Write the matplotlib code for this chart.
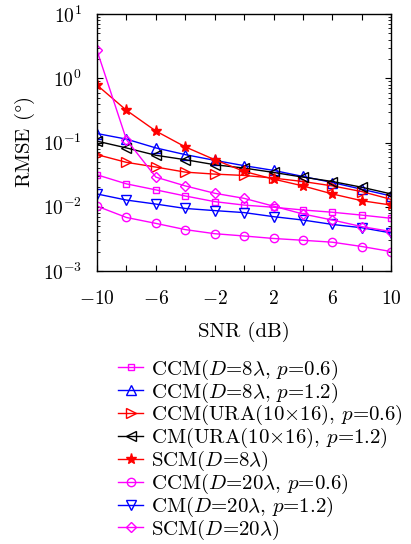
import numpy as np
import matplotlib
matplotlib.use("Agg")
import matplotlib.pyplot as plt
from matplotlib.ticker import LogLocator, NullFormatter

plt.rcParams['font.family'] = 'serif'
plt.rcParams['font.serif'] = ['cmr10', 'DejaVu Serif']
plt.rcParams['mathtext.fontset'] = 'cm'
plt.rcParams['axes.formatter.use_mathtext'] = True

# Data
snr = [-10, -8, -6, -4, -2, 0, 2, 4, 6, 8, 10]
ccm_d8_p06 = [0.0314, 0.0227, 0.0183, 0.0147, 0.0120, 0.0106, 0.0098, 0.0089, 0.0082, 0.0074, 0.0066]
ccm_d8_p12 = [0.138, 0.113, 0.0824, 0.0648, 0.0528, 0.0436, 0.0368, 0.0296, 0.0238, 0.0187, 0.0147]
ccm_ura_p06 = [0.0648, 0.0491, 0.0415, 0.0346, 0.0322, 0.0307, 0.0279, 0.0247, 0.0211, 0.0172, 0.0130]
cm_ura_p12 = [0.105, 0.0824, 0.0633, 0.054, 0.0451, 0.040, 0.0342, 0.0289, 0.0247, 0.0201, 0.0158]
scm_d8 = [0.785, 0.318, 0.151, 0.0855, 0.054, 0.0355, 0.0269, 0.0211, 0.0158, 0.0124, 0.0106]
ccm_d20_p06 = [0.0102, 0.0068, 0.0055, 0.0044, 0.0038, 0.0035, 0.0032, 0.0030, 0.0028, 0.0024, 0.0020]
cm_d20_p12 = [0.0158, 0.0127, 0.0110, 0.0094, 0.0087, 0.0081, 0.0070, 0.0062, 0.0053, 0.0047, 0.0039]
scm_d20 = [2.72, 0.111, 0.0289, 0.0211, 0.0162, 0.0135, 0.0102, 0.0077, 0.0062, 0.0049, 0.0041]

labels = [r'CCM($D$=8$\lambda$, $p$=0.6)',
          r'CCM($D$=8$\lambda$, $p$=1.2)',
          r'CCM(URA(10$\times$16), $p$=0.6)',
          r'CM(URA(10$\times$16), $p$=1.2)',
          r'SCM($D$=8$\lambda$)',
          r'CCM($D$=20$\lambda$, $p$=0.6)',
          r'CM($D$=20$\lambda$, $p$=1.2)',
          r'SCM($D$=20$\lambda$)']

fig = plt.figure(figsize=(4.11, 5.44), dpi=100)
ax = fig.add_axes([0.236, 0.502, 0.716, 0.472])

series = [ccm_d8_p06, ccm_d8_p12, ccm_ura_p06, cm_ura_p12, scm_d8, ccm_d20_p06, cm_d20_p12, scm_d20]
colors = ['#FF00FF', '#0000FF', '#FF0000', 'black', '#FF0000', '#FF00FF', '#0000FF', '#FF00FF']
markers = ['s', '^', '>', '<', '*', 'o', 'v', 'D']
sizes = [5, 6.5, 6.5, 6.5, 8, 6, 6.5, 5]

for y, c, m, s, lab in zip(series, colors, markers, sizes, labels):
    fill = 'full' if m == '*' else 'none'
    ax.plot(snr, y, color=c, marker=m, markersize=s, fillstyle=fill,
            linewidth=1.0, markeredgewidth=1.0, label=lab)

ax.set_yscale('log')
ax.set_ylim(1e-3, 1e1)
ax.set_xlim(-10, 10)
ax.set_xticks(snr)
ax.set_xticklabels(['$-10$', '', '$-6$', '', '$-2$', '', '$2$', '', '$6$', '', '$10$'])
ax.yaxis.set_minor_locator(LogLocator(base=10, subs=np.arange(2, 10), numticks=20))
ax.yaxis.set_minor_formatter(NullFormatter())
ax.tick_params(which='both', direction='in', top=True, right=True, labelsize=14)
ax.tick_params(axis='x', pad=14)
ax.tick_params(axis='y', pad=11)
ax.tick_params(which='major', length=4)
ax.tick_params(which='minor', length=2)
for sp in ax.spines.values():
    sp.set_linewidth(1.0)

ax.set_xlabel('SNR (dB)', fontsize=15, labelpad=10)
ax.set_ylabel(r'RMSE ($\degree$)', fontsize=15, labelpad=4)

fig.legend(loc='upper left', bbox_to_anchor=(0.268, 0.358), frameon=False,
           fontsize=15, handlelength=1.2, handletextpad=0.35, labelspacing=-0.06,
           borderaxespad=0)

fig.savefig('out.png', dpi=100)
